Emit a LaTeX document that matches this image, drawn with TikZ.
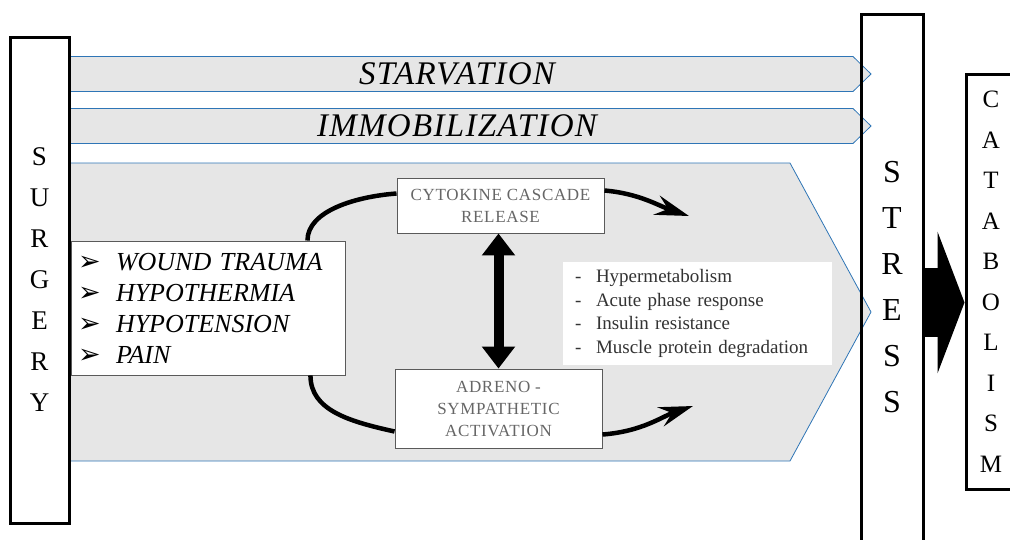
\documentclass[tikz,border=0pt]{standalone}
\usepackage{fontspec}
\setmainfont{Liberation Serif}
\newfontfamily\symfont{DejaVu Sans}
\newfontfamily\widefont{Liberation Serif}[LetterSpace=4]
\usetikzlibrary{arrows.meta}
\definecolor{bandgray}{RGB}{230,230,230}
\definecolor{edgeblue}{RGB}{46,117,182}
\definecolor{boxgray}{RGB}{90,90,90}
\newcommand\causeline[1]{\makebox[38pt][l]{\upshape\symfont\fontsize{27}{27}\selectfont ➢}#1}
\newcommand\effect[1]{\makebox[21pt][l]{-}#1}
\tikzset{
  band/.style={fill=bandgray, draw=edgeblue, line width=0.8pt},
  bandtext/.style={font=\widefont\itshape\fontsize{33}{36}\selectfont},
  pillar/.style={draw, line width=3pt, align=center, inner sep=0pt, font={#1}},
  causes/.style={draw=boxgray, fill=white, line width=0.9pt, align=left, inner xsep=7pt,
    minimum width=274pt, minimum height=134pt, text width=260pt, font=\itshape\fontsize{26}{31}\selectfont},
  stage/.style={draw=boxgray, fill=white, line width=0.9pt, align=center, text=black!60,
    minimum width=207pt, font=\widefont\fontsize{17}{22}\selectfont},
  effects/.style={fill=white, align=left, text=black!80, minimum width=269pt, minimum height=103pt,
    text width=245pt, font=\fontsize{19}{23.5}\selectfont},
  loopline/.style={line width=4.5pt, -{Stealth[length=34pt, width=20pt, inset=12pt]}},
  twoway/.style={line width=10pt, {Triangle[width=32pt, length=22pt]}-{Triangle[width=32pt, length=22pt]}},
  fat/.style={line width=69pt, -{Triangle[width=141pt, length=27pt]}},
}

\begin{document}
\begin{tikzpicture}[x=1pt,y=-1pt]
  \useasboundingbox (0,0) rectangle (1010,539);
  \clip (0,0) rectangle (1010,539);
  % grey bands
  \foreach \y/\t in {74/STARVATION, 126/IMMOBILIZATION} {
    \draw[band] (69,\y-17.5) -- (853,\y-17.5) -- (871,\y) -- (853,\y+17.5) -- (69,\y+17.5) -- cycle;
    \node[bandtext] (\t) at (457,\y) {\t};
  }
  \draw[band] (69,163) -- (790,163) -- (871,312) -- (790,461) -- (69,461) -- cycle;
  % pillars
  \node[pillar={\fontsize{27}{41}\selectfont}, fill=white, minimum width=59pt, minimum height=486pt]
    (surgery) at (39.5,280) {S\\U\\R\\G\\E\\R\\Y};
  \node[pillar={\fontsize{32}{46}\selectfont}, minimum width=62pt, minimum height=545pt]
    (stress) at (892,287) {S\\T\\R\\E\\S\\S};
  \node[pillar={\fontsize{25}{40.5}\selectfont}, fill=white, minimum width=50pt, minimum height=415pt]
    (catab) at (991,281.5) {C\\A\\T\\A\\B\\O\\L\\I\\S\\M};
  \coordinate (mid) at (0,302.5);
  \draw[fat] (stress.east |- mid) -- (catab.west |- mid);
  % inner boxes
  \node[causes] (causes) at (208,308) {\causeline{WOUND TRAUMA}\\ \causeline{HYPOTHERMIA}\\
    \causeline{HYPOTENSION}\\ \causeline{PAIN}};
  \node[stage, minimum height=55pt] (cyto) at (500.5,205.5) {CYTOKINE CASCADE\\RELEASE};
  \node[stage, minimum height=79pt] (adreno) at (498.5,408.5) {ADRENO -\\SYMPATHETIC\\ACTIVATION};
  \node[effects] (effects) at (697.5,313.5) {\effect{Hypermetabolism}\\ \effect{Acute phase response}\\
    \effect{Insulin resistance}\\ \effect{Muscle protein degradation}};
  % loop
  \coordinate (t1) at (689,216);
  \coordinate (t2) at (693,406);
  \draw[line width=4.5pt] ([xshift=-38pt]causes.north east) .. controls +(0,-30) and +(-40,3) .. ([yshift=12pt]cyto.west);
  \draw[loopline] ([yshift=15pt]cyto.east) .. controls +(35,3) and +(-30,-10) .. (t1);
  \draw[line width=4.5pt] ([xshift=-35pt]causes.south east) .. controls +(0,35) and +(-45,-10) .. ([yshift=-23pt]adreno.west);
  \draw[loopline] ([yshift=-26pt]adreno.east) .. controls +(40,-3) and +(-30,10) .. (t2);
  \draw[twoway] (cyto.south -| adreno.north) -- (adreno.north);
\end{tikzpicture}
\end{document}
